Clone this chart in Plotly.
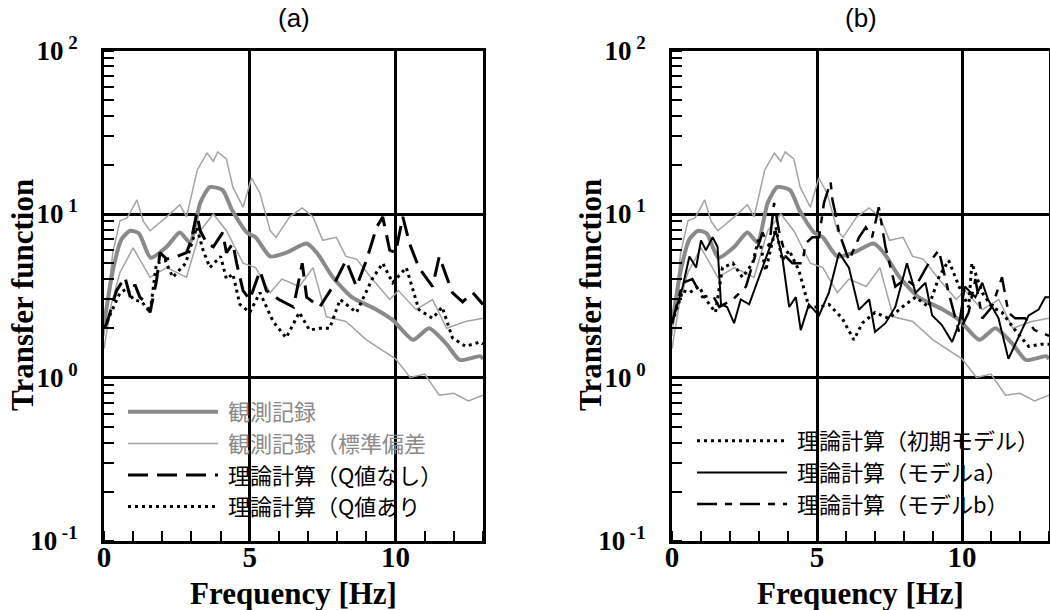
import plotly.graph_objects as go

# ---------------- data ----------------
obs_f = [0.0, 0.3, 0.6, 0.9, 1.2, 1.6, 2.15, 2.6, 2.95, 3.3, 3.63, 4.07, 4.4, 4.9, 5.2, 5.7,
         6.25, 6.95, 7.3, 7.85, 8.5, 9.35, 9.9, 10.6, 11.15, 11.75, 12.2, 12.9, 13.0]
obs_mean = [2.1, 4.5, 7.0, 7.9, 7.6, 5.4, 6.3, 7.7, 6.7, 11.7, 14.6, 14.0, 10.5, 7.7, 7.2, 5.5,
            5.8, 6.6, 5.8, 4.1, 3.1, 2.6, 2.25, 1.7, 2.0, 1.6, 1.28, 1.35, 1.3]

std_up_f = [0.0, 0.3, 0.55, 0.8, 1.13, 1.35, 1.58, 2.15, 2.6, 2.83, 3.2, 3.53, 3.75, 3.9, 4.2,
            4.42, 4.77, 5.06, 5.35, 5.7, 5.9, 6.37, 6.8, 7.17, 7.5, 7.97, 8.3, 8.66, 9.2, 9.8,
            10.1, 10.7, 11.27, 11.75, 12.4, 13.0]
std_up = [1.8, 5.8, 9.1, 9.5, 12.2, 9.0, 7.9, 9.6, 11.4, 9.6, 18.6, 23.6, 21.0, 24.0, 21.7,
          14.6, 11.0, 16.6, 13.4, 7.9, 7.2, 9.6, 10.9, 9.6, 6.9, 7.2, 5.5, 5.3, 4.0, 3.0,
          3.4, 2.6, 3.0, 2.0, 2.2, 2.3]

std_lo_f = [0.0, 0.25, 0.55, 1.0, 1.58, 2.15, 2.83, 3.3, 3.75, 4.2, 4.77, 5.2, 5.7, 6.1, 6.7,
            7.17, 7.63, 8.3, 9.0, 9.7, 10.0, 10.5, 11.0, 11.5, 12.0, 12.5, 13.0]
std_lo = [1.5, 2.8, 4.4, 6.2, 4.1, 4.7, 4.1, 7.9, 10.0, 7.9, 5.0, 4.7, 3.3, 4.0, 3.6,
          4.7, 2.35, 2.2, 1.7, 1.4, 1.3, 1.0, 1.05, 0.78, 0.8, 0.72, 0.78]

noQ_f = [0.0, 0.1, 0.43, 0.72, 0.9, 1.06, 1.23, 1.4, 1.58, 1.8, 1.92, 2.15, 2.5, 2.83, 3.0,
         3.18, 3.3, 3.53, 3.75, 4.07, 4.2, 4.42, 4.55, 4.77, 5.0, 5.35, 5.57, 6.0, 6.5, 6.8,
         6.95, 7.4, 7.85, 8.3, 8.66, 9.0, 9.35, 9.56, 9.8, 10.0, 10.25, 10.48, 10.8, 11.27,
         11.5, 11.95, 12.3, 12.65, 13.0]
noQ = [2.0, 2.15, 3.4, 4.1, 3.1, 3.7, 3.1, 2.9, 2.5, 3.9, 5.8, 5.3, 5.5, 5.8, 7.0,
       10.1, 7.9, 6.6, 6.3, 7.7, 5.8, 6.6, 5.0, 3.4, 3.0, 4.5, 3.4, 3.0, 2.7, 5.0,
       3.1, 2.7, 3.6, 5.2, 3.6, 5.2, 8.3, 9.6, 6.0, 5.8, 9.6, 6.6, 4.7, 3.6,
       5.5, 3.3, 2.9, 3.3, 2.8]

withQ_f = [0.0, 0.2, 0.55, 0.8, 1.0, 1.3, 1.58, 1.8, 2.1, 2.36, 2.8, 3.18, 3.4, 3.63, 4.0,
           4.2, 4.42, 4.66, 5.0, 5.35, 5.8, 6.25, 6.7, 7.05, 7.4, 7.74, 8.1, 8.66, 9.2, 9.56,
           9.9, 10.37, 10.8, 11.27, 11.6, 11.95, 12.4, 12.9, 13.0]
withQ = [2.0, 2.4, 3.3, 3.5, 3.0, 2.9, 2.5, 5.0, 5.2, 4.1, 5.0, 8.3, 6.0, 4.7, 5.5,
         4.0, 4.3, 2.8, 2.5, 3.3, 2.2, 1.75, 2.5, 1.95, 2.0, 2.0, 3.0, 2.5, 4.0, 5.0,
         3.8, 4.7, 2.6, 2.3, 2.7, 1.75, 1.55, 1.65, 1.6]

init_f = [0.0, 0.37, 0.6, 0.94, 1.17, 1.5, 1.74, 2.1, 2.43, 2.78, 3.0, 3.23, 3.58, 3.8, 4.04,
          4.38, 4.72, 5.07, 5.41, 5.87, 6.27, 6.56, 7.0, 7.48, 7.94, 8.4, 8.85, 9.2, 9.54, 9.9,
          10.23, 10.34, 10.7, 11.03, 11.38, 11.83, 12.3, 12.75, 13.0]
init_m = [2.15, 3.4, 3.3, 3.6, 3.0, 2.5, 4.7, 5.0, 4.1, 5.0, 7.2, 4.5, 8.3, 5.2, 6.0,
          4.5, 2.7, 2.7, 2.8, 2.3, 1.7, 2.15, 2.5, 2.3, 2.7, 3.1, 2.7, 4.1, 5.2, 3.6,
          2.7, 5.0, 3.3, 2.7, 2.5, 1.95, 1.55, 1.6, 1.6]

ma_f = [0.0, 0.37, 0.6, 0.83, 1.0, 1.17, 1.4, 1.57, 1.69, 1.9, 2.14, 2.37, 2.66, 3.0, 3.23,
        3.58, 3.8, 4.04, 4.27, 4.44, 4.72, 5.07, 5.41, 5.76, 6.1, 6.45, 6.8, 7.0, 7.36, 7.7,
        8.1, 8.4, 8.74, 8.97, 9.3, 9.66, 9.9, 10.1, 10.46, 10.7, 10.9, 11.26, 11.6, 11.95,
        12.3, 12.64, 12.87, 13.0]
ma = [2.15, 3.6, 5.5, 4.7, 6.9, 6.0, 7.2, 6.3, 2.8, 2.7, 2.15, 3.0, 2.8, 4.1, 5.2,
      7.9, 5.5, 2.7, 3.1, 1.95, 2.8, 2.4, 3.3, 5.8, 4.7, 2.6, 3.0, 1.9, 2.15, 2.7,
      5.0, 3.3, 3.8, 2.4, 2.1, 1.65, 2.15, 3.6, 3.1, 3.8, 3.0, 2.3, 1.3, 1.75,
      2.4, 2.6, 3.1, 3.1]

mb_f = [0.0, 0.37, 0.7, 1.05, 1.4, 1.63, 2.1, 2.55, 2.9, 3.12, 3.35, 3.52, 3.69, 3.92, 4.15,
        4.5, 4.6, 4.84, 5.07, 5.24, 5.47, 5.53, 5.64, 5.76, 6.1, 6.45, 6.68, 6.9, 7.13, 7.36,
        7.7, 8.05, 8.4, 8.85, 9.2, 9.54, 9.9, 10.23, 10.46, 10.7, 11.03, 11.38, 11.6, 11.83,
        12.18, 12.5, 13.0]
mb = [2.15, 3.8, 4.0, 3.1, 3.2, 2.7, 3.0, 3.6, 5.8, 7.7, 6.3, 11.7, 7.9, 5.5, 5.0,
      5.0, 6.6, 7.2, 7.2, 11.7, 15.7, 12.2, 10.0, 7.7, 5.2, 7.2, 8.3, 7.2, 11.0, 6.3,
      3.6, 4.0, 3.6, 5.0, 6.0, 3.3, 1.9, 2.5, 4.0, 2.3, 2.7, 4.1, 2.5, 2.3,
      2.3, 1.95, 1.8]

x_tickvals = [0, 5, 10]
x_ticktext = ["0", "5", "10"]
y_tickvals = [0.1, 1, 10, 100]
y_ticktext = ["10<sup> -1</sup>", "10<sup> 0</sup>", "10<sup> 1</sup>", "10<sup> 2</sup>"]

names_a = ["観測記録", "観測記録（標準偏差", "理論計算（Q値なし）", "理論計算（Q値あり"]
names_b = ["理論計算（初期モデル）", "理論計算（モデルa）", "理論計算（モデルb）"]

# ---------------- styles ----------------
GRAY_THICK = "#8a8a8a"
GRAY_THIN = "#a3a3a3"
SERIF = "Times New Roman, Liberation Serif, serif"
CJK = "Noto Sans CJK JP, sans-serif"
PAD = "\u00a0"

std_x = std_up_f + [None] + std_lo_f
std_y = std_up + [None] + std_lo

fig = go.Figure()

for xa, ya in (("x", "y"), ("x2", "y2")):
    show = xa == "x"
    fig.add_trace(go.Scatter(x=std_x, y=std_y, mode="lines", xaxis=xa, yaxis=ya,
                             line=dict(color=GRAY_THIN, width=1.5),
                             name=f'{PAD}<span style="color:{GRAY_THICK}">{names_a[1]}</span>',
                             showlegend=show, legend="legend", legendrank=2))
    fig.add_trace(go.Scatter(x=obs_f, y=obs_mean, mode="lines", xaxis=xa, yaxis=ya,
                             line=dict(color=GRAY_THICK, width=4, shape="spline", smoothing=0.6),
                             name=f'{PAD}<span style="color:{GRAY_THICK}">{names_a[0]}</span>',
                             showlegend=show, legend="legend", legendrank=1))

fig.add_trace(go.Scatter(x=noQ_f, y=noQ, mode="lines", xaxis="x", yaxis="y",
                         line=dict(color="black", width=3, dash="20px,9px"),
                         name=PAD + names_a[2], legend="legend", legendrank=3))
fig.add_trace(go.Scatter(x=withQ_f, y=withQ, mode="lines", xaxis="x", yaxis="y",
                         line=dict(color="black", width=3, dash="3px,4px"),
                         name=PAD + names_a[3], legend="legend", legendrank=4))

fig.add_trace(go.Scatter(x=init_f, y=init_m, mode="lines", xaxis="x2", yaxis="y2",
                         line=dict(color="black", width=3, dash="3px,4px"),
                         name=PAD + names_b[0], legend="legend2", legendrank=1))
fig.add_trace(go.Scatter(x=ma_f, y=ma, mode="lines", xaxis="x2", yaxis="y2",
                         line=dict(color="black", width=2),
                         name=PAD + names_b[1], legend="legend2", legendrank=2))
fig.add_trace(go.Scatter(x=mb_f, y=mb, mode="lines", xaxis="x2", yaxis="y2",
                         line=dict(color="black", width=2.5, dash="20px,8px,7px,8px"),
                         name=PAD + names_b[2], legend="legend2", legendrank=3))

xaxis_style = dict(range=[0, 13], tickmode="array", tickvals=x_tickvals, ticktext=x_ticktext,
                   showgrid=True, gridcolor="black", gridwidth=2.5, zeroline=False,
                   showline=True, linecolor="black", linewidth=3, mirror=True, ticks="",
                   automargin=False,
                   minor=dict(ticks="inside", dtick=1, ticklen=10, tickwidth=2,
                              tickcolor="black", showgrid=False),
                   tickfont=dict(family=SERIF, size=29, color="black", weight="bold"),
                   ticklabelstandoff=-12)
yaxis_style = dict(type="log", range=[-1, 2], tickmode="array", tickvals=y_tickvals,
                   ticktext=y_ticktext, showgrid=True, gridcolor="black", gridwidth=2.5,
                   zeroline=False, showline=True, linecolor="black", linewidth=3, mirror=True,
                   ticks="", automargin=False,
                   minor=dict(ticks="inside", dtick="D1", ticklen=10, tickwidth=2,
                              tickcolor="black", showgrid=False),
                   tickfont=dict(family=SERIF, size=27, color="black", weight="bold"),
                   ticklabelstandoff=18)

Y0, Y1 = 1 - 541 / 610, 1 - 50.5 / 610
fig.update_layout(
    width=1050, height=610, margin=dict(l=0, r=0, t=0, b=0, autoexpand=False),
    paper_bgcolor="white", plot_bgcolor="white",
    xaxis=dict(domain=[104 / 1050, 483 / 1050], anchor="y", **xaxis_style),
    yaxis=dict(domain=[Y0, Y1], anchor="x", **yaxis_style),
    xaxis2=dict(domain=[672 / 1050, 1049 / 1050], anchor="y2", **xaxis_style),
    yaxis2=dict(domain=[Y0, Y1], anchor="x2", **yaxis_style),
    legend=dict(x=123 / 1050, y=1 - 391 / 610, xanchor="left", yanchor="top",
                bgcolor="rgba(0,0,0,0)", itemwidth=90, tracegroupgap=0,
                font=dict(family=CJK, size=22, color="black"), traceorder="normal"),
    legend2=dict(x=692 / 1050, y=1 - 420 / 610, xanchor="left", yanchor="top",
                 bgcolor="rgba(0,0,0,0)", itemwidth=90, tracegroupgap=0,
                 font=dict(family=CJK, size=22, color="black"), traceorder="normal"),
)

ann_font_title = dict(family=SERIF, size=31, color="black", weight="bold")
for xc, ycx, label in ((293.5, 22, "(a)"), (860.5, 590, "(b)")):
    fig.add_annotation(text=label, xref="paper", yref="paper", x=xc / 1050, y=1 - 18 / 610,
                       showarrow=False, xanchor="center", yanchor="middle",
                       font=dict(family="Arial, Liberation Sans, sans-serif", size=26,
                                 color="black"))
    fig.add_annotation(text="Frequency [Hz]", xref="paper", yref="paper", x=xc / 1050,
                       y=1 - 593 / 610, showarrow=False, xanchor="center", yanchor="middle",
                       font=ann_font_title)
    fig.add_annotation(text="Transfer function", xref="paper", yref="paper", x=ycx / 1050,
                       y=1 - 295 / 610, showarrow=False, xanchor="center", yanchor="middle",
                       textangle=-90, font=ann_font_title)

fig.write_html("out.html", config={"displayModeBar": False},
               post_script="document.body.style.margin='0';")
